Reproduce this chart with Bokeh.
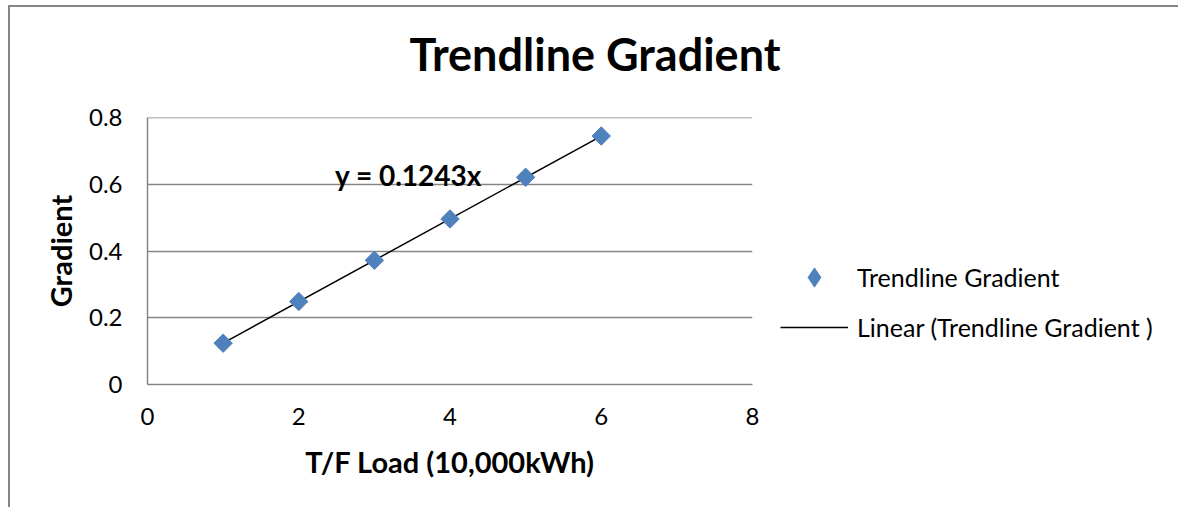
import numpy as np
from bokeh.plotting import figure
from bokeh.models import Range1d, FixedTicker, Legend, LegendItem, Label, Title
from bokeh.embed import file_html
from bokeh.resources import INLINE

# ---- data ----
load = [1, 2, 3, 4, 5, 6]
gradient = [0.124, 0.249, 0.373, 0.497, 0.622, 0.746]
slope = 0.1243
x_ticks = [0, 2, 4, 6, 8]
x_tick_labels = ["0", "2", "4", "6", "8"]
y_ticks = [0, 0.2, 0.4, 0.6, 0.8]
y_tick_labels = ["0", "0.2", "0.4", "0.6", "0.8"]
title_text = "Trendline Gradient"
x_label = "T/F Load (10,000kWh)"
y_label = "Gradient"
series_name = "Trendline Gradient"
trend_name = "Linear (Trendline Gradient )"
equation = "y = 0.1243x"

FONT = "Lato"
GRAY = "#868686"
BLUE = "#4F81BD"

p = figure(width=None, height=None, frame_width=605, frame_height=267,
           output_backend="svg", toolbar_location=None,
           x_range=Range1d(0, 8), y_range=Range1d(0, 0.8015),
           min_border_left=137, min_border_right=426,
           min_border_top=110, min_border_bottom=123, title=None)
p.styles = {"border-top": f"2px solid {GRAY}", "border-left": f"2px solid {GRAY}",
            "margin-left": "8px", "margin-top": "5px"}
p.outline_line_color = None
p.background_fill_color = "white"
p.border_fill_color = "white"

# axes
for ax in (p.xaxis[0], p.yaxis[0]):
    ax.axis_line_color = GRAY
    ax.axis_line_width = 1.5
    ax.major_tick_out = 0
    ax.major_tick_in = 0
    ax.minor_tick_out = 0
    ax.minor_tick_in = 0
    ax.major_label_text_font = FONT
    ax.major_label_text_font_size = "24px"
    ax.major_label_text_color = "black"
    ax.axis_label_text_font = FONT
    ax.axis_label_text_font_style = "bold"
    ax.axis_label_text_font_size = "29px"
    ax.axis_label_text_color = "black"

p.xaxis.ticker = FixedTicker(ticks=x_ticks)
p.xaxis.major_label_overrides = dict(zip(x_ticks, x_tick_labels))
p.yaxis.ticker = FixedTicker(ticks=y_ticks)
p.yaxis.major_label_overrides = dict(zip(y_ticks, y_tick_labels))
p.xaxis.axis_label = x_label
p.yaxis.axis_label = y_label
p.xaxis.major_label_standoff = 23
p.xaxis.axis_label_standoff = 16
p.yaxis.major_label_standoff = 25
p.yaxis.axis_label_standoff = 8

p.xgrid.grid_line_color = None
p.ygrid.grid_line_color = GRAY
p.ygrid.grid_line_width = 1.5
p.ygrid.ticker = FixedTicker(ticks=y_ticks)

# trendline
tx = [min(load), max(load)]
ty = [slope * v for v in tx]
line_r = p.line(tx, ty, line_color="black", line_width=1.5)

# points
pts_r = p.scatter(load, gradient, marker="square", size=13, angle=np.pi / 4,
                  fill_color=BLUE, line_color=BLUE)

# equation label
p.add_layout(Label(x=2.48, y=0.628, text=equation, text_font=FONT,
                   text_font_style="bold", text_font_size="28px",
                   text_baseline="middle", text_align="left", text_color="black"))

# spacer between plot area and title (nearest the frame), then the title
spacer = Title(text=" ", text_font_size="1px", standoff=29)
p.add_layout(spacer, "above")
title = Title(text=title_text, align="left", offset=262, text_font=FONT,
              text_font_style="bold", text_font_size="45px", text_color="black",
              standoff=10)
p.add_layout(title, "above")

# legend (diamond key; renderer has a single NaN point so nothing is drawn in the plot)
key_r = p.scatter([float("nan")], [float("nan")], marker="diamond",
                  fill_color=BLUE, line_color=BLUE)
legend = Legend(items=[LegendItem(label=series_name, renderers=[key_r]),
                       LegendItem(label=trend_name, renderers=[line_r])],
                location=(28, 33), orientation="vertical")
legend.padding = 0
legend.margin = 0
legend.border_line_color = None
legend.background_fill_alpha = 0
legend.label_text_font = FONT
legend.label_text_font_size = "25px"
legend.label_text_color = "black"
legend.glyph_width = 68
legend.glyph_height = 48
legend.label_height = 30
legend.spacing = 2
legend.label_standoff = 9
p.add_layout(legend, "right")

open("out.html", "w").write(file_html(p, INLINE))
